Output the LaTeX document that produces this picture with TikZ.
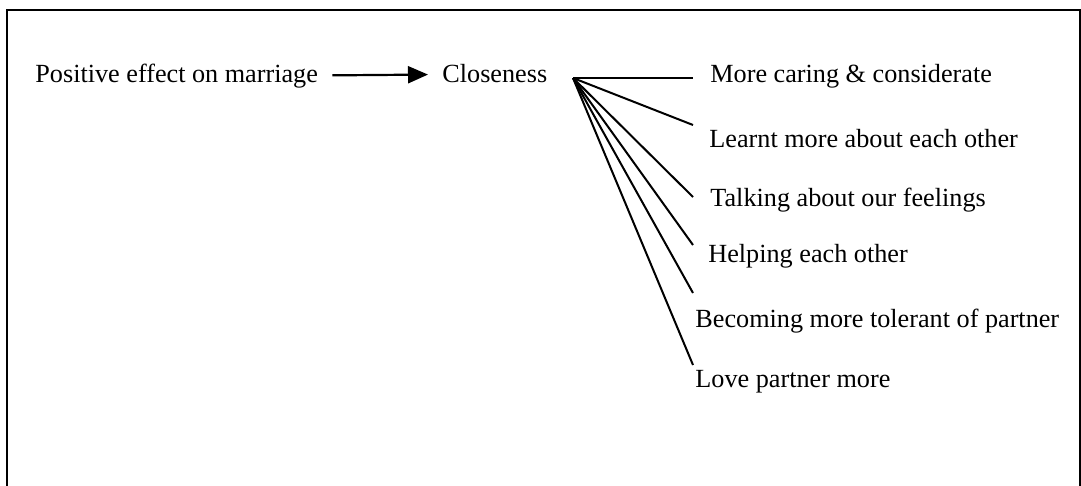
\documentclass[tikz,border=0pt]{standalone}
\usepackage{fontspec}
\setmainfont{Liberation Serif}
\usetikzlibrary{arrows.meta, positioning}
\tikzstyle{term} = [inner sep=0pt, anchor=base west, font=\fontsize{13.1}{15}\selectfont]
\tikzstyle{arrow} = [line width=1.1pt, -{Triangle[length=10pt, width=8.5pt]}]
\tikzstyle{spoke} = [line width=1pt]

\begin{document}
\begin{tikzpicture}[x=0.5pt, y=-0.5pt]
      \useasboundingbox (0,0) rectangle (1081,486);
      \draw[line width=1pt] (7,486) -- (7,10) -- (1080,10) -- (1080,486);

      \node[term] (pos) at (35,83) {Positive effect on marriage};
      \node[term] (close) at (442,83) {Closeness};
      \coordinate (fan) at (573,78);

      \node[term] (care) at (710,83) {More caring \& considerate};
      \node[term] (learn) at (709,148) {Learnt more about each other};
      \node[term] (talk) at (710,207) {Talking about our feelings};
      \node[term] (help) at (708,263) {Helping each other};
      \node[term] (toler) at (695,327) {Becoming more tolerant of partner};
      \node[term] (love) at (695,387) {Love partner more};

      % spoke ends
      \coordinate (e1) at (693,78);
      \coordinate (e2) at (693,125);
      \coordinate (e3) at (693,197);
      \coordinate (e4) at (693,245);
      \coordinate (e5) at (693,293);
      \coordinate (e6) at (693,365);

      \draw[arrow, shorten <=7pt, shorten >=7pt] (pos) -- (close);
      \foreach \e in {e1,e2,e3,e4,e5,e6}
        \draw[spoke] (fan) -- (\e);
    \end{tikzpicture}
\end{document}
